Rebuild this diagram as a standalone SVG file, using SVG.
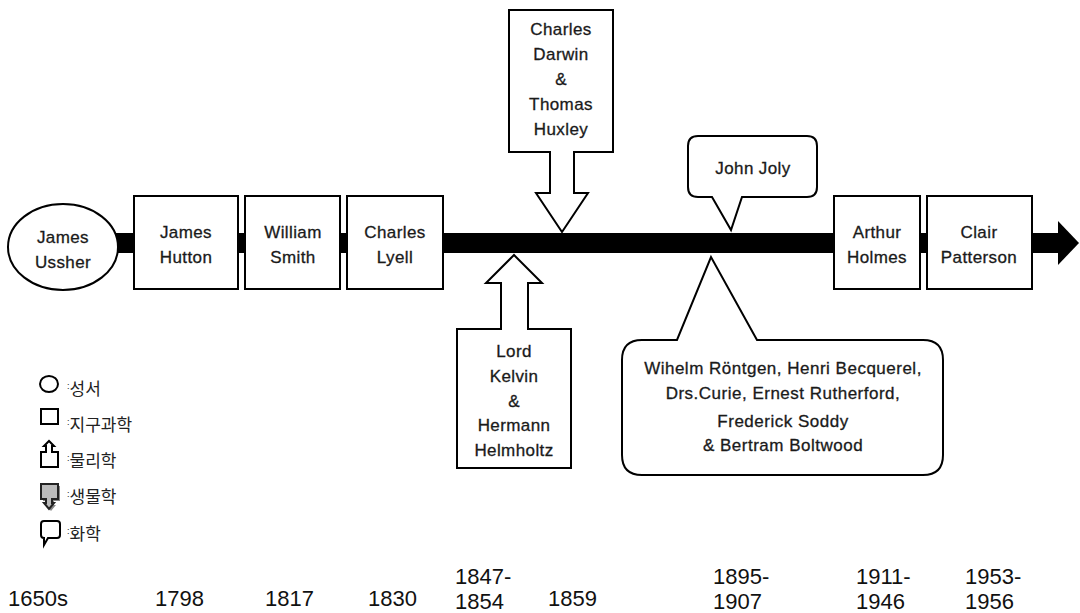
<svg xmlns="http://www.w3.org/2000/svg" width="1080" height="613" viewBox="0 0 1080 613">
<style>
.n{fill:#fff;stroke:#000;stroke-width:2}
.t{font-family:"Liberation Sans",Arial,sans-serif;font-size:17px;letter-spacing:0.4px;fill:#1a1a1a;stroke:#1a1a1a;stroke-width:0.3px;text-anchor:middle}
.s{font-family:"Liberation Sans",Arial,sans-serif;font-size:17px;letter-spacing:0.5px;fill:#1a1a1a;stroke:#1a1a1a;stroke-width:0.3px;text-anchor:middle}
.y{font-family:"Liberation Sans",Arial,sans-serif;font-size:22px;fill:#111}
.k{font-family:"Liberation Sans","Noto Sans CJK KR",sans-serif;font-size:17px;fill:#222}
.c{font-size:9px}
.ic{fill:#fff;stroke:#000;stroke-width:2}
</style>
<rect width="1080" height="613" fill="#fff"/>
<g id="connectors">
<rect x="112" y="233" width="950" height="20" fill="#000"/>
<path d="M1058,221 L1079,243 L1058,265 Z" fill="#000"/>
</g>
<g id="ussher"><ellipse class="n" cx="63" cy="247" rx="55" ry="43"/><text class="t" x="63" y="243">James</text><text class="t" x="63" y="268">Ussher</text></g>
<g id="hutton"><rect class="n" x="134" y="196" width="104" height="93"/><text class="t" x="186" y="238">James</text><text class="t" x="186" y="263">Hutton</text></g>
<g id="smith"><rect class="n" x="245" y="196" width="95" height="93"/><text class="t" x="293" y="238">William</text><text class="t" x="293" y="263">Smith</text></g>
<g id="lyell"><rect class="n" x="347" y="196" width="96" height="93"/><text class="t" x="395" y="238">Charles</text><text class="t" x="395" y="263">Lyell</text></g>
<g id="holmes"><rect class="n" x="834" y="196" width="86" height="93"/><text class="t" x="877" y="238">Arthur</text><text class="t" x="877" y="263">Holmes</text></g>
<g id="patterson"><rect class="n" x="927" y="196" width="105" height="93"/><text class="t" x="979" y="238">Clair</text><text class="t" x="979" y="263">Patterson</text></g>
<g id="darwin"><path class="n" d="M509,10 H613 V152 H574 V193 H588 L562,232 L536,193 H550 V152 H509 Z"/>
<text class="t" x="561" y="35">Charles</text><text class="t" x="561" y="60">Darwin</text><text class="t" x="561" y="85">&amp;</text><text class="t" x="561" y="110">Thomas</text><text class="t" x="561" y="135">Huxley</text></g>
<g id="kelvin"><path class="n" d="M457,329 H501 V283 H486 L514,255 L542,283 H528 V329 H571 V468 H457 Z"/>
<text class="t" x="514" y="357">Lord</text><text class="t" x="514" y="382">Kelvin</text><text class="t" x="514" y="407">&amp;</text><text class="t" x="514" y="431">Hermann</text><text class="t" x="514" y="456">Helmholtz</text></g>
<g id="joly"><path class="n" d="M698,136 H807 Q817,136 817,146 V187 Q817,197 807,197 H742 L731,230 L712,197 H698 Q688,197 688,187 V146 Q688,136 698,136 Z"/>
<text class="t" x="753" y="174">John Joly</text></g>
<g id="radio"><path class="n" d="M642,340 H677 L711,257 L757,340 H923 Q943,340 943,360 V455 Q943,475 923,475 H642 Q622,475 622,455 V360 Q622,340 642,340 Z"/>
<text class="s" x="783" y="374">Wihelm Röntgen, Henri Becquerel,</text><text class="s" x="783" y="399">Drs.Curie, Ernest Rutherford,</text><text class="s" x="783" y="427">Frederick Soddy</text><text class="s" x="783" y="451">&amp; Bertram Boltwood</text></g>
<g id="legend">
<ellipse class="ic" cx="49" cy="384" rx="9" ry="8"/>
<rect class="ic" x="41" y="409" width="17" height="15"/>
<path class="ic" d="M41,452 H46 V446 H44 L49,441 L54,446 H52 V452 H58 V467 H41 Z"/>
<path d="M43,486 H60 V501 H54 V505 H56 L51,511 L46,505 H48 V501 H43 Z" fill="#888"/>
<path d="M41,484 H58 V499 H52 V503 H54 L49,509 L44,503 H46 V499 H41 Z" fill="#bbb" stroke="#222" stroke-width="2"/>
<path class="ic" d="M44,521 H57 Q60,521 60,524 V535 Q60,538 57,538 H48 L44,545 L44,538 Q41,538 41,535 V524 Q41,521 44,521 Z"/>
<text class="k" x="67" y="395"><tspan class="c" dy="-6">:</tspan><tspan dy="6">성서</tspan></text>
<text class="k" x="67" y="431"><tspan class="c" dy="-6">:</tspan><tspan dy="6">지구과학</tspan></text>
<text class="k" x="67" y="467"><tspan class="c" dy="-6">:</tspan><tspan dy="6">물리학</tspan></text>
<text class="k" x="67" y="503"><tspan class="c" dy="-6">:</tspan><tspan dy="6">생물학</tspan></text>
<text class="k" x="67" y="540"><tspan class="c" dy="-6">:</tspan><tspan dy="6">화학</tspan></text>
</g>
<g id="years">
<text class="y" x="8" y="606">1650s</text>
<text class="y" x="155" y="606">1798</text>
<text class="y" x="265" y="606">1817</text>
<text class="y" x="368" y="606">1830</text>
<text class="y" x="455" y="584">1847-</text>
<text class="y" x="455" y="609">1854</text>
<text class="y" x="548" y="606">1859</text>
<text class="y" x="713" y="584">1895-</text>
<text class="y" x="713" y="609">1907</text>
<text class="y" x="856" y="584">1911-</text>
<text class="y" x="856" y="609">1946</text>
<text class="y" x="965" y="584">1953-</text>
<text class="y" x="965" y="609">1956</text>
</g>
</svg>
